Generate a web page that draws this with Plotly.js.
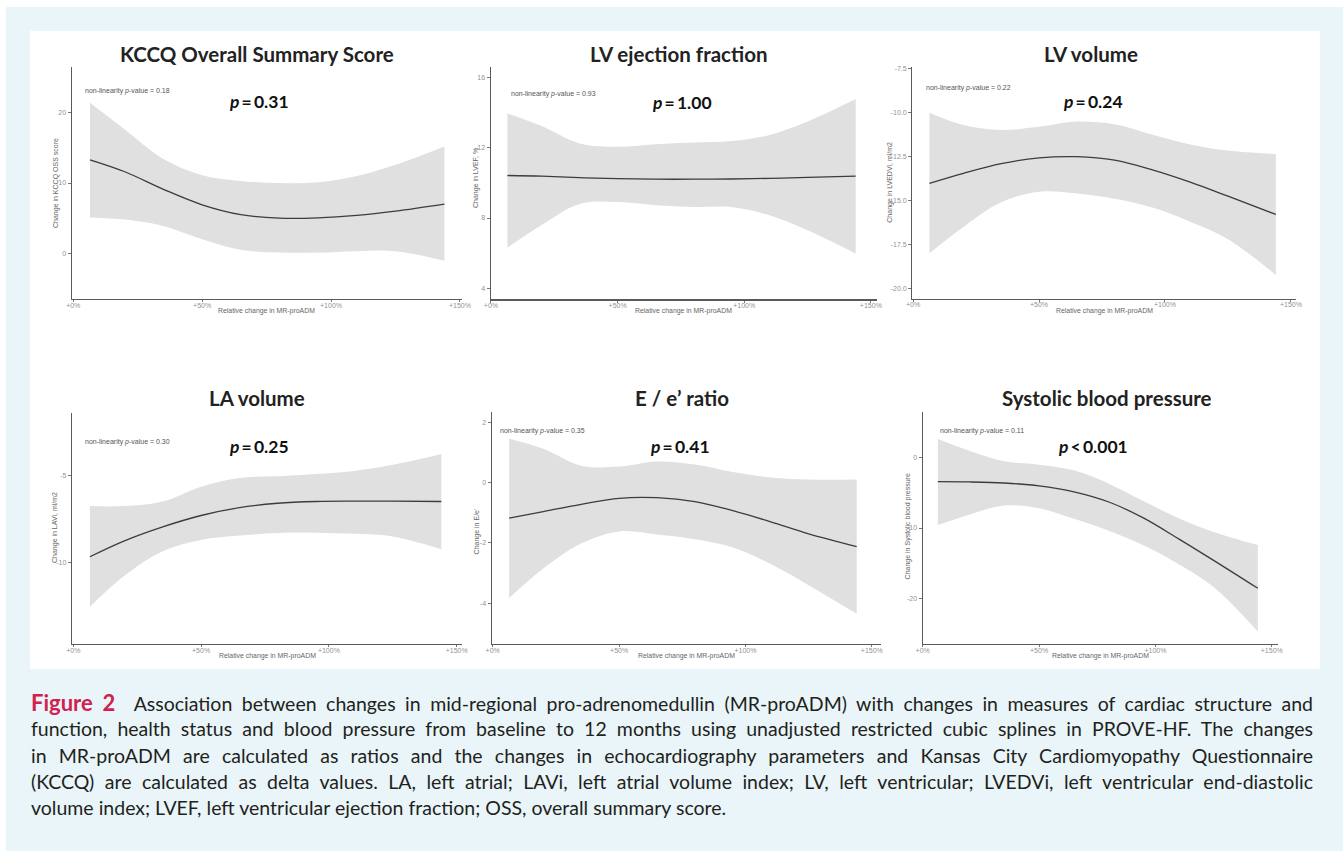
<!DOCTYPE html>
<html>
<head>
<meta charset="utf-8">
<script src="https://cdn.plot.ly/plotly-3.0.1.min.js"></script>
<style>
  html, body { margin:0; padding:0; background:#ffffff; }
  #wrap { position:relative; width:1343px; height:851px; overflow:hidden; }
  #plot { position:absolute; left:0; top:0; width:1343px; height:851px; }
  #caption { position:absolute; left:31px; top:690px; width:1282px; font-family:Lato, "Open Sans", sans-serif; font-size:19.5px; color:#231f20; }
  .ln { height:26.3px; line-height:26.3px; text-align:justify; text-align-last:justify; white-space:nowrap; overflow:visible; }
  .ln.last { text-align:left; text-align-last:left; }
  .fig { color:#d0214f; font-weight:700; font-size:22px; }
</style>
</head>
<body>
<div id="wrap">
  <div id="plot"></div>
  <div id="caption">
    <div class="ln"><span class="fig">Figure 2</span>&nbsp; Association between changes in mid-regional pro-adrenomedullin (MR-proADM) with changes in measures of cardiac structure and</div>
    <div class="ln">function, health status and blood pressure from baseline to 12 months using unadjusted restricted cubic splines in PROVE-HF. The changes</div>
    <div class="ln">in MR-proADM are calculated as ratios and the changes in echocardiography parameters and Kansas City Cardiomyopathy Questionnaire</div>
    <div class="ln">(KCCQ) are calculated as delta values. LA, left atrial; LAVi, left atrial volume index; LV, left ventricular; LVEDVi, left ventricular end-diastolic</div>
    <div class="ln last">volume index; LVEF, left ventricular ejection fraction; OSS, overall summary score.</div>
  </div>
</div>
<script>
// ---------------- DATA ----------------
const xGrid = [6.5, 20, 35, 50, 65, 80, 95, 110, 125, 144]; // relative change in MR-proADM, %

const kccqFit   = [13.3, 11.6, 9.1, 6.9, 5.5, 5.0, 5.05, 5.4, 6.0, 7.0];
const kccqUpper = [21.4, 17.6, 13.4, 11.1, 10.3, 10.0, 10.1, 11.0, 12.6, 15.2];
const kccqLower = [5.1, 4.8, 3.9, 2.0, 0.5, 0.1, 0.1, 0.3, 0.3, -1.05];

const lvefFit   = [10.42, 10.38, 10.30, 10.24, 10.21, 10.21, 10.22, 10.26, 10.31, 10.38];
const lvefUpper = [13.97, 13.24, 12.25, 12.06, 12.2, 12.3, 12.38, 12.73, 13.5, 14.78];
const lvefLower = [6.31, 7.6, 8.8, 8.91, 8.73, 8.63, 8.63, 8.15, 7.3, 5.97];

const lvediFit   = [-14.02, -13.45, -12.9, -12.57, -12.5, -12.7, -13.25, -13.95, -14.75, -15.79];
const lvediUpper = [-10.0, -10.7, -10.98, -10.8, -10.5, -10.65, -11.25, -11.8, -12.15, -12.35];
const lvediLower = [-18.0, -16.5, -15.1, -14.5, -14.6, -14.9, -15.4, -16.2, -17.2, -19.24];

const laviFit   = [-9.66, -8.75, -7.95, -7.3, -6.85, -6.6, -6.5, -6.48, -6.48, -6.5];
const laviUpper = [-6.76, -6.76, -6.5, -5.65, -5.15, -5.05, -4.93, -4.75, -4.4, -3.78];
const laviLower = [-12.52, -10.75, -9.35, -8.7, -8.45, -8.3, -8.28, -8.35, -8.5, -9.23];

const eeFit   = [-1.18, -0.96, -0.72, -0.52, -0.5, -0.63, -0.93, -1.3, -1.7, -2.12];
const eeUpper = [1.45, 1.12, 0.56, 0.53, 0.7, 0.6, 0.35, 0.17, 0.1, 0.1];
const eeLower = [-3.83, -2.85, -2.02, -1.62, -1.72, -1.88, -2.15, -2.7, -3.4, -4.35];

const sbpFit   = [-3.41, -3.45, -3.6, -4.0, -4.85, -6.3, -8.6, -11.55, -14.6, -18.58];
const sbpUpper = [2.66, 1.0, -0.5, -1.0, -1.8, -3.7, -6.2, -8.6, -10.56, -12.42];
const sbpLower = [-9.57, -8.1, -6.8, -7.2, -8.7, -10.4, -12.5, -15.15, -18.4, -24.75];

const panelTitles = ["KCCQ Overall Summary Score", "LV ejection fraction", "LV volume", "LA volume", "E / e\u2019 ratio", "Systolic blood pressure"];
const yTitles = ["Change in KCCQ OSS score", "Change in LVEF, %", "Change in LVEDVi, ml/m2", "Change in LAVi, ml/m2", "Change in E/e\u2019", "Change in Systolic blood pressure"];
const pTexts = ["<i>p</i>\u2009=\u20090.31", "<i>p</i>\u2009=\u20091.00", "<i>p</i>\u2009=\u20090.24", "<i>p</i>\u2009=\u20090.25", "<i>p</i>\u2009=\u20090.41", "<i>p</i>\u2009&lt;\u20090.001"];
const nonlinValues = ["0.18", "0.93", "0.22", "0.30", "0.35", "0.11"];
const xTitle = "Relative change in MR-proADM";
const xTickVals = [0, 50, 100, 150];
const xTickText = ["+0%", "+50%", "+100%", "+150%"];
const yTickVals = [[0, 10, 20], [4, 8, 12, 16], [-20, -17.5, -15, -12.5, -10, -7.5], [-10, -5], [-4, -2, 0, 2], [-20, -10, 0]];
const yTickText = [["0", "10", "20"], ["4", "8", "12", "16"], ["-20.0", "-17.5", "-15.0", "-12.5", "-10.0", "-7.5"], ["-10", "-5"], ["-4", "-2", "0", "2"], ["-20", "-10", "0"]];

const fits   = [kccqFit, lvefFit, lvediFit, laviFit, eeFit, sbpFit];
const uppers = [kccqUpper, lvefUpper, lvediUpper, laviUpper, eeUpper, sbpUpper];
const lowers = [kccqLower, lvefLower, lvediLower, laviLower, eeLower, sbpLower];

// ---------------- LAYOUT GEOMETRY (pixels) ----------------
const W = 1343, H = 851;
const geo = [
  {x0:71.7, x1:461.7, y0:67,    y1:299,   xr:[-0.6, 150.7], yr:[-6.5, 26.5],
   title:[257, 54], p:[259, 101.7], nl:[82.7, 90.7], xt:[266.7, 311], yt:[56, 183]},
  {x0:490.7, x1:876.7, y0:67,   y1:299.3, xr:[-0.1, 152.3], yr:[3.37, 16.6],
   title:[679, 54], p:[682, 102.7], nl:[509, 94.3], xt:[683, 311], yt:[476, 178]},
  {x0:912.3, x1:1296, y0:67,    y1:298.7, xr:[-0.3, 152.0], yr:[-20.59, -7.39],
   title:[1090.7, 54], p:[1093, 101.7], nl:[924.3, 88.3], xt:[1104, 311], yt:[890, 181.7]},
  {x0:72, x1:462.3, y0:412.7,   y1:644,   xr:[-0.5, 152.2], yr:[-14.65, -1.42],
   title:[256.7, 398.3], p:[259.3, 446.7], nl:[82.7, 441.7], xt:[267.3, 656], yt:[55, 528]},
  {x0:491.7, x1:880.7, y0:412.3, y1:644,  xr:[-0.4, 153.5], yr:[-5.35, 2.33],
   title:[682.3, 398.3], p:[680, 446.7], nl:[498.3, 431], xt:[686.7, 656], yt:[476.7, 531.7]},
  {x0:922.7, x1:1278.3, y0:412.3, y1:644, xr:[0, 152.8], yr:[-26.5, 6.46],
   title:[1106.7, 398.3], p:[1093.3, 446.7], nl:[937.7, 430.7], xt:[1100.7, 656], yt:[907.7, 526.7]}
];
const px = v => v / W;
const py = v => 1 - v / H;

const traces = [];
const layout = {
  width: W, height: H,
  margin: {l:0, r:0, t:0, b:0, pad:0},
  paper_bgcolor: "#ffffff",
  plot_bgcolor: "rgba(0,0,0,0)",
  showlegend: false,
  font: {family: "Liberation Sans, Arial, sans-serif", color: "#555"},
  shapes: [
    {type:"rect", xref:"paper", yref:"paper", x0:px(6), x1:1, y0:0, y1:py(7),
     fillcolor:"#e9f5f8", line:{width:0}, layer:"below"},
    {type:"rect", xref:"paper", yref:"paper", x0:px(30), x1:px(1320), y0:py(669), y1:py(31),
     fillcolor:"#ffffff", line:{width:0}, layer:"below"}
  ],
  annotations: []
};

geo.forEach((g, i) => {
  const n = i + 1;
  const xa = "x" + (n === 1 ? "" : n), ya = "y" + (n === 1 ? "" : n);
  traces.push({x: xGrid, y: lowers[i], xaxis: xa, yaxis: ya, type: "scatter", mode: "lines",
    line: {width: 0, shape: "spline", smoothing: 1}, hoverinfo: "skip"});
  traces.push({x: xGrid, y: uppers[i], xaxis: xa, yaxis: ya, type: "scatter", mode: "lines",
    fill: "tonexty", fillcolor: "#e0e0e0", line: {width: 0, shape: "spline", smoothing: 1}, hoverinfo: "skip"});
  traces.push({x: xGrid, y: fits[i], xaxis: xa, yaxis: ya, type: "scatter", mode: "lines",
    line: {color: "#3c3c3c", width: 1.3, shape: "spline", smoothing: 1}});

  const axCommon = {showline: true, linecolor: "#5a5a5a", linewidth: 1.2, ticks: "outside", ticklen: 3,
    tickwidth: 1, tickcolor: "#777", showgrid: false, zeroline: false, fixedrange: true,
    tickfont: {size: 7, color: "#929292", family: "Liberation Sans, Arial, sans-serif"}};
  layout["xaxis" + (n === 1 ? "" : n)] = Object.assign({}, axCommon, {
    anchor: ya, domain: [px(g.x0), px(g.x1)], range: g.xr, ticklen: 2, ticklabelstandoff: -3,
    tickmode: "array", tickvals: xTickVals, ticktext: xTickText});
  layout["yaxis" + (n === 1 ? "" : n)] = Object.assign({}, axCommon, {
    anchor: xa, domain: [py(g.y1), py(g.y0)], range: g.yr,
    tickmode: "array", tickvals: yTickVals[i], ticktext: yTickText[i]});

  layout.annotations.push(
    {xref: "paper", yref: "paper", x: px(g.title[0]), y: py(g.title[1]), xanchor: "center", yanchor: "middle",
     text: "<b>" + panelTitles[i] + "</b>", showarrow: false,
     font: {family: "Lato, sans-serif", size: 20.5, color: "#222"}},
    {xref: "paper", yref: "paper", x: px(g.p[0]), y: py(g.p[1]), xanchor: "center", yanchor: "middle",
     text: "<b>" + pTexts[i] + "</b>", showarrow: false,
     font: {family: "Lato, sans-serif", size: 17.5, color: "#111"}},
    {xref: "paper", yref: "paper", x: px(g.nl[0]), y: py(g.nl[1]), xanchor: "left", yanchor: "middle",
     text: "non-linearity <i>p</i>-value = " + nonlinValues[i], showarrow: false,
     font: {family: "Liberation Sans, Arial, sans-serif", size: 7, color: "#555"}},
    {xref: "paper", yref: "paper", x: px(g.xt[0]), y: py(g.xt[1]), xanchor: "center", yanchor: "middle",
     text: xTitle, showarrow: false,
     font: {family: "Liberation Sans, Arial, sans-serif", size: 6.9, color: "#666"}},
    {xref: "paper", yref: "paper", x: px(g.yt[0]), y: py(g.yt[1]), xanchor: "center", yanchor: "middle",
     text: yTitles[i], textangle: -90, showarrow: false,
     font: {family: "Liberation Sans, Arial, sans-serif", size: 7, color: "#666"}}
  );
});

Plotly.newPlot("plot", traces, layout, {staticPlot: true, displayModeBar: false});
</script>
</body>
</html>
